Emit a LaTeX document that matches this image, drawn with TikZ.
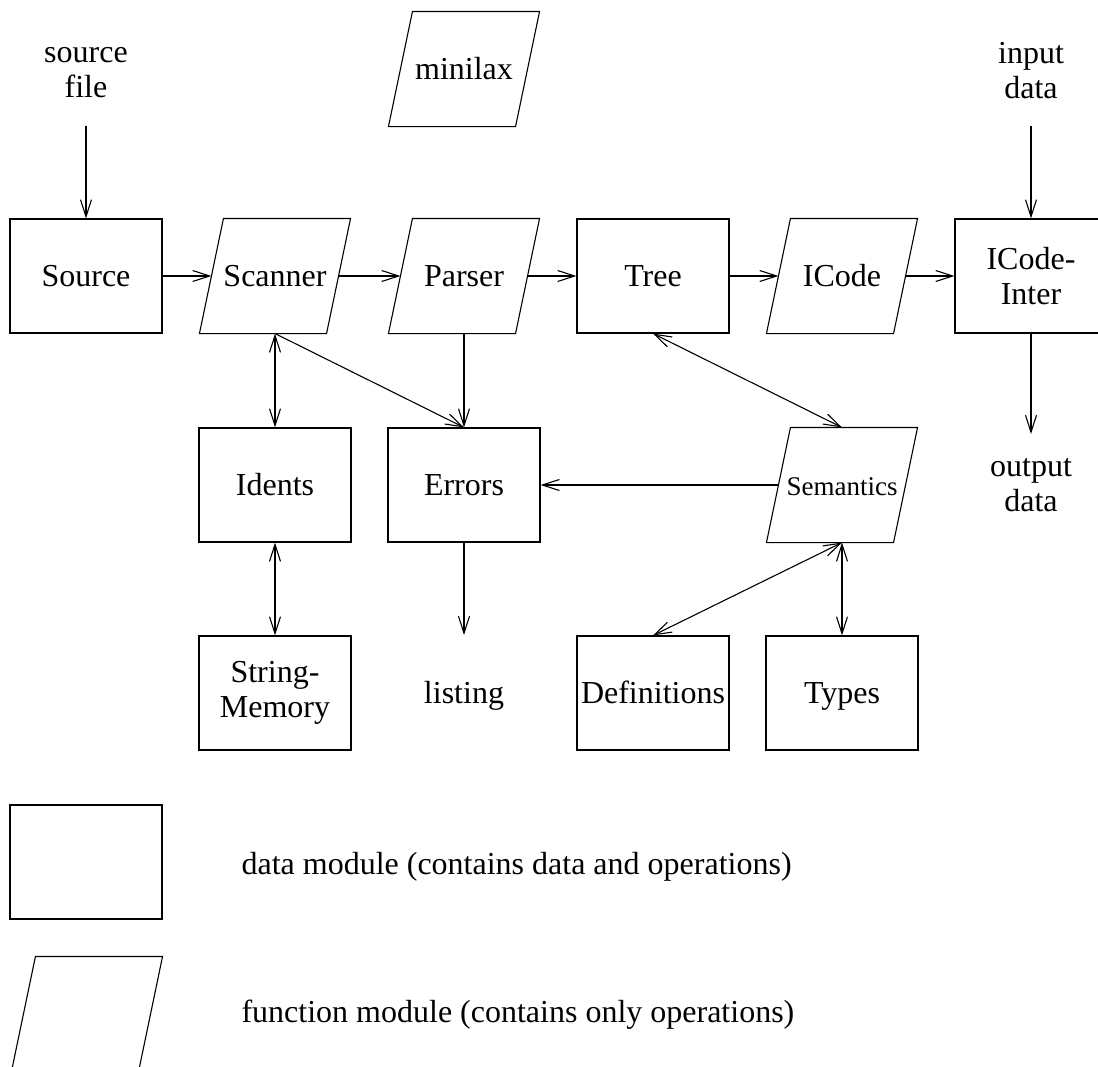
\documentclass[tikz,border=0pt]{standalone}
\usepackage{fontspec}
\setmainfont{Liberation Serif}
\usetikzlibrary{arrows.meta}
\tikzset{
  lbl/.style={font=\fontsize{32}{35}\selectfont, align=center, inner sep=0pt},
  dmod/.style={lbl, draw, minimum width=152pt, minimum height=114pt},
  fmod/.style={lbl, minimum width=150pt, minimum height=114pt},
  oneline/.style={text height=24pt, text depth=3pt},
  conn/.style={line width=1.1pt, -{Straight Barb[length=17pt,width=11pt,line width=1.1pt]}},
  bconn/.style={line width=1.1pt, {Straight Barb[length=17pt,width=11pt,line width=1.1pt]}-{Straight Barb[length=17pt,width=11pt,line width=1.1pt]}},
}
\newcommand\slantshape[1]{\draw[line width=1.1pt] ([xshift=24pt]#1.north west) -- (#1.north east) -- ([xshift=-24pt]#1.south east) -- (#1.south west) -- cycle;}
\begin{document}
\begin{tikzpicture}[x=1pt,y=-1pt, line width=1.1pt]
\useasboundingbox (0,0) rectangle (1098,1066);
\clip (0,0) rectangle (1098,1066);
% main row
\node[dmod, oneline] (source) at (86,276) {Source};
\node[fmod, oneline] (scanner) at (275,276) {Scanner};
\node[fmod, oneline] (parser) at (464,276) {Parser};
\node[dmod, oneline] (tree) at (653,276) {Tree};
\node[fmod, oneline] (icode) at (842,276) {ICode};
\node[dmod] (inter) at (1031,276) {ICode-\\Inter};
\slantshape{scanner}
\slantshape{parser}
\slantshape{icode}
% top
\node[fmod, oneline] (minilax) at (464,69) {minilax};
\slantshape{minilax}
\node[lbl] (srcfile) at (86,73) {source\\file};
\node[lbl] (indata) at (1031,71) {input\\data};
\node[lbl] (outdata) at (1031,485) {output\\data};
% second row
\node[dmod, oneline] (idents) at (275,485) {Idents};
\node[dmod, oneline] (errors) at (464,485) {Errors};
\node[fmod, oneline, font=\fontsize{27}{30}\selectfont] (sem) at (842,485) {Semantics};
\slantshape{sem}
% third row
\node[dmod] (strmem) at (275,693) {String-\\Memory};
\node[lbl, oneline] (listing) at (464,693) {listing};
\node[dmod, oneline] (defs) at (653,693) {Definitions};
\node[dmod, oneline] (types) at (842,693) {Types};
% legend
\node[dmod] (legd) at (86,862) {};
\node[fmod] (legf) at (87,1014) {};
\slantshape{legf}
\node[lbl, oneline, anchor=west] (legdtxt) at (241,864) {data module (contains data and operations)};
\node[lbl, oneline, anchor=west] (legftxt) at (241,1012) {function module (contains only operations)};
% coordinates
\coordinate (srcin) at (86,126);
\coordinate (datin) at (1031,126);
\coordinate (datout) at (1031,434);
\coordinate (lstin) at (464,635);
% connectors
\draw[conn] (srcin) -- (source.north);
\draw[conn] (datin) -- (inter.north);
\draw[conn] (inter.south) -- (datout);
\draw[conn] (source.east) -- ([xshift=12pt]scanner.west);
\draw[conn] ([xshift=-12pt]scanner.east) -- ([xshift=12pt]parser.west);
\draw[conn] ([xshift=-12pt]parser.east) -- (tree.west);
\draw[conn] (tree.east) -- ([xshift=12pt]icode.west);
\draw[conn] ([xshift=-12pt]icode.east) -- (inter.west);
\draw[bconn] (scanner.south) -- (idents.north);
\draw[conn] (scanner.south) -- (errors.north);
\draw[conn] (parser.south) -- (errors.north);
\draw[bconn] (tree.south) -- (sem.north);
\draw[conn] ([xshift=12pt]sem.west) -- (errors.east);
\draw[bconn] (idents.south) -- (strmem.north);
\draw[conn] (errors.south) -- (lstin);
\draw[bconn] (sem.south) -- (defs.north);
\draw[bconn] (sem.south) -- (types.north);
\end{tikzpicture}
\end{document}
